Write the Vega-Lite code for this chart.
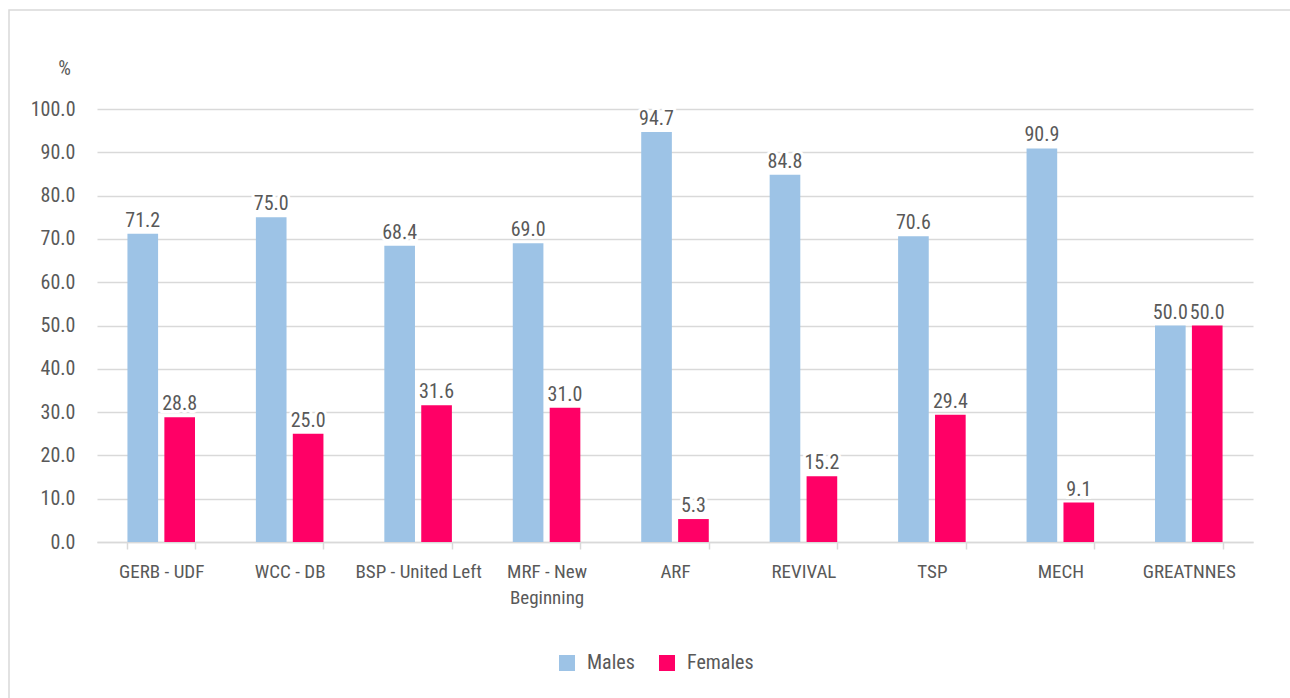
{
  "$schema": "https://vega.github.io/schema/vega-lite/v6.json",
  "width": 1284,
  "height": 691,
  "autosize": {"type": "none"},
  "padding": {"left": 9, "top": 10, "right": -3, "bottom": -3},
  "background": "white",
  "config": {
    "font": "Roboto Condensed, Liberation Sans Narrow, DejaVu Sans Condensed, sans-serif",
    "view": {"stroke": "#d9d9d9", "strokeWidth": 1.5}
  },
  "data": {
    "values": [
      {"party": "GERB - UDF", "sex": "Males", "value": 71.2},
      {"party": "GERB - UDF", "sex": "Females", "value": 28.8},
      {"party": "WCC - DB", "sex": "Males", "value": 75.0},
      {"party": "WCC - DB", "sex": "Females", "value": 25.0},
      {"party": "BSP - United Left", "sex": "Males", "value": 68.4},
      {"party": "BSP - United Left", "sex": "Females", "value": 31.6},
      {"party": "MRF - New Beginning", "sex": "Males", "value": 69.0},
      {"party": "MRF - New Beginning", "sex": "Females", "value": 31.0},
      {"party": "ARF", "sex": "Males", "value": 94.7},
      {"party": "ARF", "sex": "Females", "value": 5.3},
      {"party": "REVIVAL", "sex": "Males", "value": 84.8},
      {"party": "REVIVAL", "sex": "Females", "value": 15.2},
      {"party": "TSP", "sex": "Males", "value": 70.6},
      {"party": "TSP", "sex": "Females", "value": 29.4},
      {"party": "MECH", "sex": "Males", "value": 90.9},
      {"party": "MECH", "sex": "Females", "value": 9.1},
      {"party": "GREATNNES", "sex": "Males", "value": 50.0},
      {"party": "GREATNNES", "sex": "Females", "value": 50.0}
    ]
  },
  "encoding": {
    "x": {
      "field": "party",
      "type": "nominal",
      "sort": null,
      "scale": {"range": [88, 1244], "paddingInner": 0.474, "paddingOuter": 0.237},
      "axis": {
        "title": null,
        "orient": "bottom",
        "offset": -159,
        "labelAngle": 0,
        "labelFontSize": 19,
        "labelColor": "#595959",
        "labelPadding": 13,
        "labelLineHeight": 26,
        "labelExpr": "datum.label == 'MRF - New Beginning' ? ['MRF - New', 'Beginning'] : datum.label",
        "domainColor": "#d9d9d9",
        "domainWidth": 1.5,
        "tickColor": "#d9d9d9",
        "tickWidth": 1.5,
        "tickSize": 7,
        "tickBand": "extent",
        "grid": false
      }
    },
    "xOffset": {
      "field": "sex",
      "type": "nominal",
      "sort": ["Males", "Females"],
      "scale": {"paddingInner": 0.17, "paddingOuter": 0}
    },
    "y": {
      "field": "value",
      "type": "quantitative",
      "scale": {"domain": [0, 100], "range": [532, 99], "nice": false, "zero": true},
      "axis": {
        "orient": "left",
        "offset": -88,
        "values": [0, 10, 20, 30, 40, 50, 60, 70, 80, 90, 100],
        "format": ".1f",
        "domain": false,
        "ticks": false,
        "grid": true,
        "gridColor": "#d9d9d9",
        "gridWidth": 1.5,
        "labelFontSize": 20,
        "labelColor": "#595959",
        "labelPadding": 22,
        "title": "%",
        "titleAngle": 0,
        "titleAlign": "center",
        "titleBaseline": "middle",
        "titleX": -33,
        "titleY": 58,
        "titleFontSize": 20,
        "titleFontWeight": "normal",
        "titleColor": "#595959"
      }
    }
  },
  "layer": [
    {
      "mark": {"type": "bar"},
      "encoding": {
        "color": {
          "field": "sex",
          "type": "nominal",
          "sort": ["Males", "Females"],
          "scale": {"domain": ["Males", "Females"], "range": ["#9dc3e6", "#ff0066"]},
          "legend": {
            "title": null,
            "orient": "none",
            "legendX": 548,
            "legendY": 643,
            "direction": "horizontal",
            "symbolType": "square",
            "symbolSize": 256,
            "symbolStrokeWidth": 0,
            "labelFontSize": 20,
            "labelColor": "#595959",
            "labelOffset": 10,
            "columnPadding": 22
          }
        }
      }
    },
    {
      "mark": {"type": "text", "baseline": "alphabetic", "dy": -7, "fontSize": 20, "stroke": "white", "strokeWidth": 6, "fill": "white"},
      "encoding": {"text": {"field": "value", "type": "quantitative", "format": ".1f"}}
    },
    {
      "mark": {"type": "text", "baseline": "alphabetic", "dy": -7, "fontSize": 20, "fill": "#595959"},
      "encoding": {"text": {"field": "value", "type": "quantitative", "format": ".1f"}}
    }
  ]
}
